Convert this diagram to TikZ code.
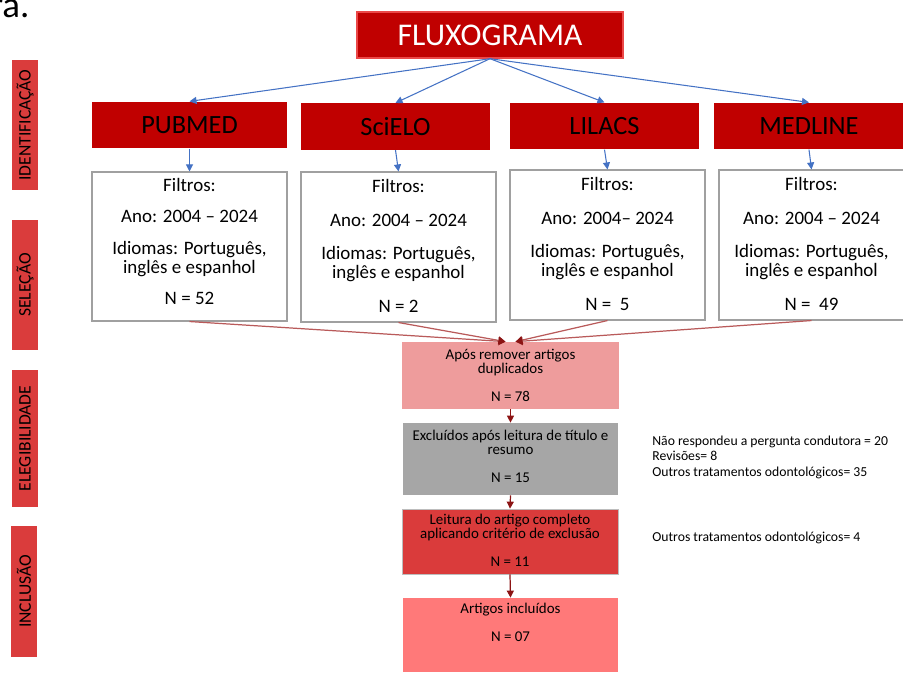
\documentclass[tikz,border=0pt]{standalone}
\usepackage{fontspec}
\setmainfont{Carlito}
\usetikzlibrary{arrows.meta,fit,shadows}

\definecolor{hdrred}{RGB}{192,0,0}
\definecolor{hdrlight}{RGB}{235,72,72}
\definecolor{sidered}{RGB}{218,60,60}
\definecolor{aposfill}{RGB}{238,156,156}
\definecolor{revfill}{RGB}{166,166,166}
\definecolor{leitfill}{RGB}{218,59,59}
\definecolor{inclfill}{RGB}{255,121,121}
\definecolor{linkblue}{RGB}{68,114,196}
\definecolor{linkred}{RGB}{140,20,20}
\definecolor{linkpale}{RGB}{185,90,90}
\definecolor{boxgray}{RGB}{160,160,160}

\tikzset{
  hdr/.style={fill=hdrred, inner sep=0pt, font=\fontsize{15}{18}\selectfont},
  filtro/.style={draw=boxgray, line width=0.6pt, inner sep=0pt},
  ftext/.style={anchor=north, inner sep=0pt, align=center, font=\fontsize{10.8}{11}\selectfont},
  side/.style={fill=sidered, rotate=90, minimum height=0.52cm, inner sep=0pt, font=\fontsize{10}{11}\selectfont},
  etapa/.style={inner sep=0pt, draw=boxgray!70, line width=0.4pt},
  etxt/.style={anchor=north, inner sep=0pt, align=center, font=\fontsize{8.5}{8}\selectfont},
  nota/.style={anchor=north west, inner sep=0pt, align=left, font=\fontsize{7.8}{8.8}\selectfont},
  azul/.style={draw=linkblue, line width=0.6pt, -{Triangle[length=4pt,width=4pt]}},
  junta/.style={draw=linkpale, line width=0.7pt, -{Triangle[length=4pt,width=4.5pt,color=linkred]}},
  desce/.style={draw=linkred, line width=0.7pt, -{Triangle[length=4pt,width=4pt]}},
}

\begin{document}
\begin{tikzpicture}[x=0.02cm, y=-0.02cm]
\useasboundingbox (0,0) rectangle (903,673);
\node[anchor=base west, inner sep=0pt, font=\fontsize{21}{25}\selectfont] (resto) at (-10,17) {ra.};

% titulo
\node[fill=hdrred, draw=hdrlight, line width=0.8pt, inner sep=0pt,
      drop shadow={opacity=0.3, shadow xshift=0.4pt, shadow yshift=-0.8pt},
      minimum width=5.32cm, minimum height=0.92cm, text=white,
      font=\fontsize{18}{20}\selectfont] (fluxo) at (490,35) {FLUXOGRAMA};

% etapas
\node[side, minimum width=2.6cm] (ident) at (25,125) {IDENTIFICAÇÃO};
\node[side, minimum width=2.6cm] (selec) at (25,285) {SELEÇÃO};
\node[side, minimum width=2.74cm] (eleg) at (25,438.5) {ELEGIBILIDADE};
\node[side, minimum width=2.62cm] (inclu) at (24,591.5) {INCLUSÃO};

% bases
\foreach \nm/\cx/\cy/\w/\txt in {pubmed/189.5/125/3.9cm/PUBMED, scielo/395.5/126.5/3.78cm/SciELO,
    lilacs/604.5/126/3.78cm/LILACS, medline/809/126/3.8cm/MEDLINE}
  \node[hdr, minimum width=\w, minimum height=0.93cm] (\nm) at (\cx,\cy) {\txt};

\foreach \nm/\xa/\ya/\xb/\yb in {fpub/92/172/287/321, fsci/301/172/496/322, flil/510/170/705/320, fmed/719/170/904/320}
  \node[filtro, fit={(\xa,\ya) (\xb,\yb)}] (\nm) {};

\foreach \nm in {pubmed,scielo,lilacs,medline}
  \draw[azul] (fluxo.south) -- (\nm.north);
\foreach \a/\b in {pubmed/fpub, scielo/fsci, lilacs/flil, medline/fmed}
  \draw[azul] (\a.south) -- (\b.north);

% filtros
\node[ftext] (tpub) at (189.5,178.3) {Filtros:\\[6.7pt]Ano: 2004 – 2024\\[6.7pt]Idiomas: Português,\\inglês e espanhol\\[6.7pt]N = 52};
\node[ftext] (tsci) at (398.5,179.3) {Filtros:\\[8pt]Ano: 2004 – 2024\\[8pt]Idiomas: Português,\\inglês e espanhol\\[8pt]N = 2};
\node[ftext] (tlil) at (607.5,177.3) {Filtros:\\[8pt]Ano: 2004– 2024\\[8pt]Idiomas: Português,\\inglês e espanhol\\[8pt]N = \ 5};
\node[ftext] (tmed) at (811.5,177.3) {Filtros:\\[8pt]Ano: 2004 – 2024\\[8pt]Idiomas: Português,\\inglês e espanhol\\[8pt]N = \ 49};

% etapas seguintes
\node[etapa, draw=none, fill=aposfill, fit={(402,342) (619,409)}] (apos) {};
\node[etapa, draw=none, fill=revfill, fit={(403,423) (618,495)}] (excl) {};
\node[etapa, fill=leitfill, fit={(402,509) (618,574)}] (leit) {};
\node[etapa, draw=none, fill=inclfill, fit={(403,598) (618,672)}] (incl) {};

\draw[junta] (fpub.south) -- ([xshift=-0.1cm]apos.north);
\draw[junta] (fsci.south) -- ([xshift=-0.1cm]apos.north);
\draw[junta] (flil.south) -- ([xshift=0.1cm]apos.north);
\draw[junta] (fmed.south) -- ([xshift=0.1cm]apos.north);
\draw[desce] (apos.south) -- (excl.north);
\draw[desce] (excl.south) -- (leit.north);
\draw[desce] (leit.south) -- (incl.north);

\node[etxt] (tapos) at (510.5,349) {Após remover artigos\\duplicados\\[8pt]N = 78};
\node[etxt] (texcl) at (510.5,430) {Excluídos após leitura de título e\\resumo\\[8pt]N = 15};
\node[etxt] (tleit) at (510,514) {Leitura do artigo completo\\aplicando critério de exclusão\\[8pt]N = 11};
\node[etxt] (tincl) at (510.5,603) {Artigos incluídos\\[8pt]N = 07};

% motivos
\node[nota] (nexcl) at (652,435.5) {Não respondeu a pergunta condutora = 20\\Revisões= 8\\Outros tratamentos odontológicos= 35};
\node[nota] (nleit) at (652,531.5) {Outros tratamentos odontológicos= 4};
\end{tikzpicture}
\end{document}
